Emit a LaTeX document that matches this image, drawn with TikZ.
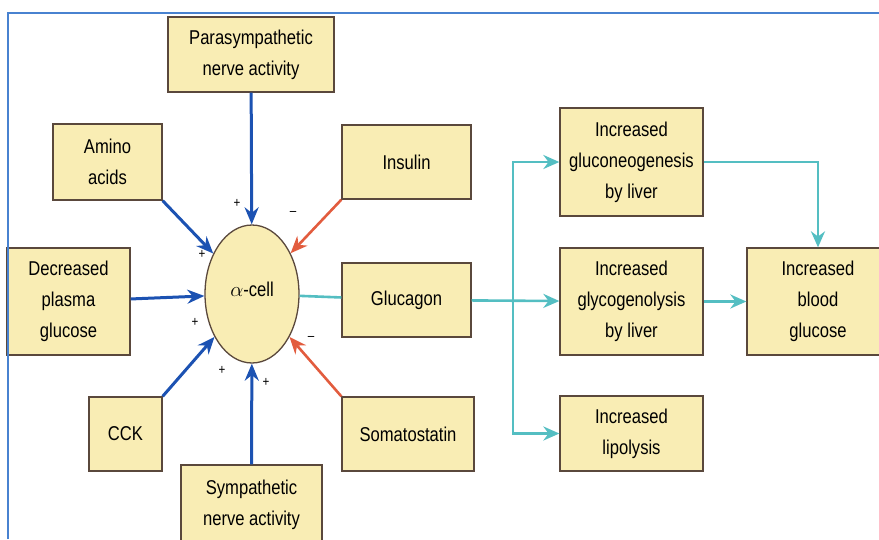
\documentclass[tikz,border=0pt]{standalone}
\usepackage{fontspec}
\usepackage{tikz}
\usetikzlibrary{shapes.geometric, arrows.meta, positioning, calc}
\newfontfamily\boxfont[FakeStretch=0.83]{Liberation Sans}
\definecolor{boxfill}{RGB}{249,237,180}
\definecolor{boxline}{RGB}{90,72,60}
\definecolor{posblue}{RGB}{28,82,178}
\definecolor{negred}{RGB}{226,92,62}
\definecolor{outteal}{RGB}{84,190,194}
\definecolor{frameblue}{RGB}{72,130,208}
\tikzset{
  box/.style={rectangle, draw=boxline, fill=boxfill, line width=1.3pt,
    inner sep=0pt, align=center, font=\boxfont\fontsize{20}{31}\selectfont},
  cell/.style={ellipse, draw=boxline, fill=boxfill, line width=1.3pt,
    minimum width=94pt, minimum height=138pt, inner sep=0pt,
    font=\boxfont\fontsize{20}{31}\selectfont},
  stim/.style={-{Stealth[length=17pt,width=14pt]}, line width=3pt, posblue},
  inhib/.style={-{Stealth[length=17pt,width=14pt]}, line width=2.6pt, negred},
  effline/.style={line width=2.6pt, outteal},
  effarrow/.style={effline, -{Stealth[length=16pt,width=14pt]}},
  sign/.style={font=\boxfont\fontsize{14}{14}\selectfont, inner sep=0pt},
  frameline/.style={draw=frameblue, line width=2pt}
}
\begin{document}
\begin{tikzpicture}[x=1pt, y=-1pt]
  \useasboundingbox (0,0) rectangle (879,539);
  % inputs to the alpha cell
  \node[cell] (acell) at (252,294) {\raisebox{10pt}{$\alpha$-cell}};
  \node[box, minimum width=166pt, minimum height=75pt] (para) at (251,54.5) {Parasympathetic\\nerve activity};
  \node[box, minimum width=109pt, minimum height=76pt] (amino) at (107.5,162) {Amino\\acids};
  \node[box, minimum width=129pt, minimum height=74pt] (insulin) at (406.5,162) {Insulin};
  \node[box, minimum width=123pt, minimum height=107pt] (decr) at (68.5,301.5) {Decreased\\plasma\\glucose};
  \node[box, minimum width=129pt, minimum height=74pt] (glucagon) at (406.5,300) {Glucagon};
  \node[box, minimum width=73pt, minimum height=74pt] (cck) at (125.5,434) {CCK};
  \node[box, minimum width=141pt, minimum height=80pt] (symp) at (251.5,505) {Sympathetic\\nerve activity};
  \node[box, minimum width=132pt, minimum height=74pt] (somato) at (408,434) {Somatostatin};
  % effects of glucagon
  \node[box, minimum width=143pt, minimum height=108pt] (gneo) at (631.5,162) {Increased\\gluconeogenesis\\by liver};
  \node[box, minimum width=143pt, minimum height=107pt] (glyco) at (631.5,301.5) {Increased\\glycogenolysis\\by liver};
  \node[box, minimum width=143pt, minimum height=75pt] (lipo) at (631.5,433.5) {Increased\\lipolysis};
  \node[box, minimum width=142pt, minimum height=107pt] (blood) at (818,301.5) {Increased\\blood\\glucose};

  \draw[stim] (para) -- (acell);
  \draw[stim] (amino.south east) -- (acell);
  \draw[stim] (decr) -- (acell);
  \draw[stim] (cck.north east) -- (acell);
  \draw[stim] (symp) -- (acell);
  \draw[inhib] (insulin.south west) -- (acell);
  \draw[inhib] (somato.north west) -- (acell);

  \node[sign] (s1) at (237,203) {+};
  \node[sign] (s2) at (202,254) {+};
  \node[sign] (s3) at (195,322) {+};
  \node[sign] (s4) at (222,370) {+};
  \node[sign] (s5) at (266,382) {+};
  \node[sign] (m1) at (293,213) {–};
  \node[sign] (m2) at (311,338) {–};

  \coordinate (jn) at (513,300);
  \draw[effline] (acell) -- (glucagon);
  \draw[effarrow] (glucagon) -- (glyco);
  \draw[effarrow] (jn) |- (gneo);
  \draw[effarrow] (jn) |- (lipo);
  \draw[effarrow] (gneo) -| (blood);
  \draw[effarrow] (glyco) -- (blood);

  \draw[frameline] (7.5,539) -- (7.5,12.5) -- (879,12.5);
\end{tikzpicture}
\end{document}
